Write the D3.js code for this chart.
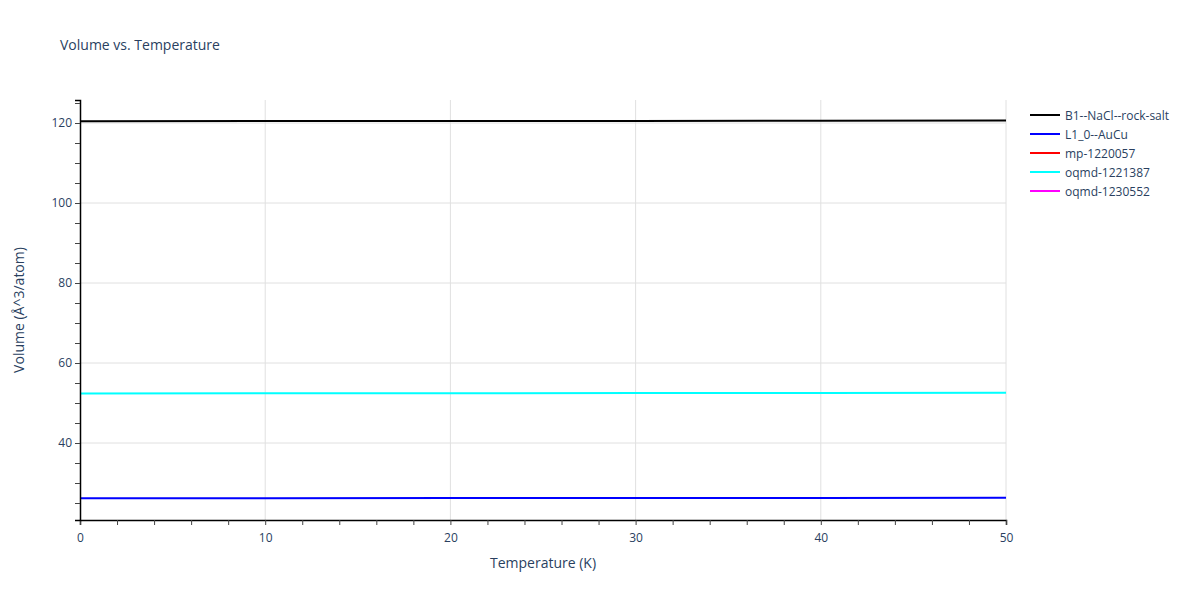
<!DOCTYPE html>
<html><head><meta charset="utf-8">
<script src="https://cdn.jsdelivr.net/npm/d3@7"></script>
<style>body{margin:0;background:#fff;font-family:"Open Sans",sans-serif}</style>
</head><body><svg id="c" width="1200" height="600"></svg>
<script>
const temps = [0, 10, 20, 30, 40, 50];
const seriesNames = ["B1--NaCl--rock-salt", "L1_0--AuCu", "mp-1220057", "oqmd-1221387", "oqmd-1230552"];
const seriesColors = ["#000000", "#0000ff", "#ff0000", "#00ffff", "#ff00ff"];
const b1 = [120.45, 120.47, 120.5, 120.53, 120.57, 120.62];
const l10 = [26.2, 26.21, 26.22, 26.24, 26.26, 26.29];
const mp = [];
const oq1 = [52.4, 52.42, 52.44, 52.47, 52.51, 52.56];
const oq2 = [];
const seriesValues = [b1, l10, mp, oq1, oq2];
const xTicks = [0, 10, 20, 30, 40, 50];
const yTicks = [40, 60, 80, 100, 120];

const svg = d3.select("#c");
const L = 80, R = 1006, T = 100, B = 520;
const x = d3.scaleLinear().domain([0, 50]).range([L, R]);
const y = d3.scaleLinear().domain([20.75, 125.75]).range([B, T]);
const txt = "#2a3f5f";

svg.append("text").attr("x", 60).attr("y", 50).attr("fill", txt).attr("font-size", 14).text("Volume vs. Temperature");

const g = svg.append("g");
g.selectAll(".gx").data(xTicks.slice(1)).join("line").attr("x1", d => x(d)).attr("x2", d => x(d)).attr("y1", T).attr("y2", B).attr("stroke", "#e0e0e0");
g.selectAll(".gy").data(yTicks).join("line").attr("y1", d => y(d)).attr("y2", d => y(d)).attr("x1", L).attr("x2", R).attr("stroke", "#e0e0e0");

const line = d3.line().x((d, i) => x(temps[i])).y(d => y(d));
seriesValues.forEach((vals, k) => {
  if (vals.length) svg.append("path").attr("d", line(vals)).attr("fill", "none").attr("stroke", seriesColors[k]).attr("stroke-width", 2);
});

const xa = svg.append("g").attr("transform", `translate(0,${B})`)
  .call(d3.axisBottom(x).tickValues(d3.range(0, 51, 2)).tickSize(5).tickFormat(d => d % 10 === 0 ? d : ""));
const ya = svg.append("g").attr("transform", `translate(${L},0)`)
  .call(d3.axisLeft(y).tickValues(d3.range(25, 126, 5)).tickSize(5).tickFormat(d => d % 20 === 0 && d >= 40 ? d : ""));
[xa, ya].forEach(a => {
  a.select(".domain").attr("stroke", "#000").attr("stroke-width", 1.5);
  a.selectAll(".tick line").attr("stroke", "#444");
  a.selectAll("text").attr("fill", txt).attr("font-size", 12).attr("font-family", "Open Sans, sans-serif");
});
xa.selectAll("text").attr("dy", "1.2em");

svg.append("text").attr("x", (L + R) / 2).attr("y", 568).attr("text-anchor", "middle").attr("fill", txt).attr("font-size", 14).text("Temperature (K)");
svg.append("text").attr("transform", `translate(24,${(T + B) / 2}) rotate(-90)`).attr("text-anchor", "middle").attr("fill", txt).attr("font-size", 14).text("Volume (Å^3/atom)");

const lg = svg.append("g").attr("transform", "translate(1030,115)");
seriesNames.forEach((n, i) => {
  const r = lg.append("g").attr("transform", `translate(0,${i * 19})`);
  r.append("line").attr("x1", 0).attr("x2", 30).attr("stroke", seriesColors[i]).attr("stroke-width", 2);
  r.append("text").attr("x", 35).attr("y", 4.5).attr("fill", txt).attr("font-size", 12).text(n);
});
</script></body></html>
